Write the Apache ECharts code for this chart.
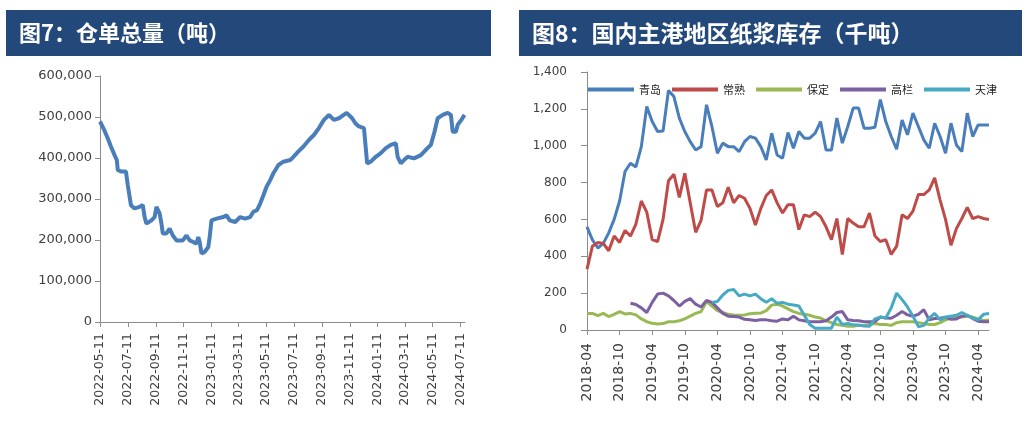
<!DOCTYPE html>
<html><head><meta charset="utf-8">
<script src="https://cdn.jsdelivr.net/npm/echarts@6/dist/echarts.min.js"></script>
<style>html,body{margin:0;padding:0;background:#fff}#c{width:1027px;height:425px}</style>
</head><body><div id="c"></div>
<script>
const leftTitle = '图7：仓单总量（吨）';
const rightTitle = '图8：国内主港地区纸浆库存（千吨）';

// Left chart: warehouse receipts (tonnes)
const whDates = ['2022-05-11','2022-05-20','2022-05-28','2022-06-04','2022-06-12','2022-06-17','2022-06-19','2022-06-26','2022-07-07','2022-07-11','2022-07-15','2022-07-18','2022-07-26','2022-08-06','2022-08-13','2022-08-17','2022-08-21','2022-09-01','2022-09-08','2022-09-12','2022-09-19','2022-09-23','2022-09-26','2022-10-04','2022-10-11','2022-10-18','2022-10-26','2022-11-09','2022-11-17','2022-11-24','2022-12-02','2022-12-09','2022-12-13','2022-12-16','2022-12-20','2022-12-27','2023-01-04','2023-01-07','2023-01-11','2023-01-22','2023-02-06','2023-02-13','2023-02-20','2023-03-04','2023-03-15','2023-03-26','2023-04-06','2023-04-13','2023-04-21','2023-04-28','2023-05-05','2023-05-12','2023-05-20','2023-05-27','2023-06-07','2023-06-18','2023-07-03','2023-07-10','2023-07-21','2023-08-01','2023-08-13','2023-08-24','2023-09-04','2023-09-15','2023-09-26','2023-10-07','2023-10-18','2023-11-04','2023-11-16','2023-11-23','2023-12-01','2023-12-12','2023-12-16','2023-12-19','2023-12-27','2024-01-07','2024-01-18','2024-01-29','2024-02-09','2024-02-20','2024-02-24','2024-03-02','2024-03-09','2024-03-17','2024-03-31','2024-04-15','2024-04-26','2024-05-07','2024-05-15','2024-05-22','2024-06-02','2024-06-13','2024-06-20','2024-06-24','2024-07-01','2024-07-05','2024-07-13','2024-07-20'];
const whValues = [489000,469000,448000,428000,407000,395000,371000,367000,367000,334000,330000,285000,277000,281000,285000,256000,240000,248000,256000,281000,265000,240000,216000,216000,228000,211000,199000,199000,211000,199000,195000,191000,207000,195000,167000,171000,183000,207000,248000,252000,256000,260000,248000,244000,256000,252000,256000,269000,273000,289000,309000,330000,346000,363000,383000,391000,395000,403000,416000,428000,444000,456000,473000,493000,505000,493000,497000,510000,497000,485000,477000,473000,469000,387000,391000,403000,412000,424000,432000,436000,403000,387000,395000,403000,399000,407000,420000,432000,464000,497000,505000,510000,505000,464000,464000,481000,493000,505000];
const whTicks = ['2022-05-11','2022-07-11','2022-09-11','2022-11-11','2023-01-11','2023-03-11','2023-05-11','2023-07-11','2023-09-11','2023-11-11','2024-01-11','2024-03-11','2024-05-11','2024-07-11'];
const whStart = '2022-05-11';
const whEnd = '2024-07-21';

// Right chart: pulp inventory at main ports (kt)
const months = ['2018-04','2018-05','2018-06','2018-07','2018-08','2018-09','2018-10','2018-11','2018-12','2019-01','2019-02','2019-03','2019-04','2019-05','2019-06','2019-07','2019-08','2019-09','2019-10','2019-11','2019-12','2020-01','2020-02','2020-03','2020-04','2020-05','2020-06','2020-07','2020-08','2020-09','2020-10','2020-11','2020-12','2021-01','2021-02','2021-03','2021-04','2021-05','2021-06','2021-07','2021-08','2021-09','2021-10','2021-11','2021-12','2022-01','2022-02','2022-03','2022-04','2022-05','2022-06','2022-07','2022-08','2022-09','2022-10','2022-11','2022-12','2023-01','2023-02','2023-03','2023-04','2023-05','2023-06','2023-07','2023-08','2023-09','2023-10','2023-11','2023-12','2024-01','2024-02','2024-03','2024-04','2024-05','2024-06'];
const portNames = ['青岛','常熟','保定','高栏','天津'];
const qingdao = [560,489,445,470,527,600,700,860,905,885,995,1213,1131,1077,1080,1300,1267,1150,1077,1022,977,995,1222,1104,959,1014,995,995,968,1022,1050,1041,995,923,1068,950,932,1072,986,1077,1041,1041,1068,1131,977,977,1150,1014,1104,1204,1204,1095,1095,1100,1250,1131,1050,981,1140,1059,1177,1104,1032,986,1122,1050,959,1122,1004,968,1177,1050,1113,1113,1113];
const changshu = [330,455,475,470,430,510,475,540,510,575,700,640,490,480,600,810,845,720,850,690,530,595,760,760,670,690,775,690,730,715,660,570,660,730,760,690,635,680,680,545,625,615,640,615,560,490,605,410,605,580,560,560,635,510,480,490,410,455,625,605,645,735,735,760,825,705,600,460,550,605,665,605,615,605,600];
const baoding = [90,90,78,90,73,85,100,87,90,82,60,45,36,33,35,45,45,50,60,75,90,100,155,130,105,95,85,82,80,82,88,91,92,105,135,140,130,115,100,90,85,80,70,65,50,40,30,25,20,20,25,25,30,35,30,30,25,40,45,45,45,40,35,30,30,40,55,65,70,70,75,70,60,50,55];
const gaolan = [null,null,null,null,null,null,null,null,145,138,120,95,150,195,200,185,160,130,155,170,140,125,160,150,120,90,75,73,70,58,55,52,55,55,50,48,60,55,75,55,50,45,45,45,50,70,95,100,55,52,50,45,45,45,70,65,64,80,100,82,75,85,110,55,62,64,70,58,60,75,80,62,48,45,45];
const tianjin = [null,null,null,null,null,null,null,null,null,null,null,null,null,null,null,null,null,null,null,null,null,null,null,150,155,190,215,220,185,195,185,195,170,150,170,145,150,140,136,130,80,30,10,10,10,10,70,30,36,28,27,22,20,60,70,65,120,200,165,125,75,18,25,65,90,55,70,75,80,95,80,65,55,85,90];
const portColors = ['#4A7EBB','#BE4B48','#98B954','#7D60A0','#46AAC5'];

const pd = s => +echarts.time.parse(s);
const fmtNum = v => String(v).replace(/\B(?=(\d{3})+(?!\d))/g, ',');
const axisGrey = '#8c8c8c';
const txt = '#404040';
const chart = echarts.init(document.getElementById('c'), null, {renderer: 'canvas'});
const portData = [qingdao, changshu, baoding, gaolan, tianjin];
const tickVals = whTicks.map(pd);

chart.setOption({
  animation: false,
  backgroundColor: '#fff',
  graphic: [
    {type: 'rect', shape: {x: 6, y: 10, width: 485, height: 46}, style: {fill: '#23497B'}},
    {type: 'text', x: 19, y: 33, style: {text: leftTitle, fill: '#fff', font: 'bold 22px "Noto Sans CJK SC"', textVerticalAlign: 'middle'}},
    {type: 'rect', shape: {x: 519, y: 10, width: 503, height: 46}, style: {fill: '#23497B'}},
    {type: 'text', x: 532, y: 33, style: {text: rightTitle, fill: '#fff', font: 'bold 23px "Noto Sans CJK SC"', textVerticalAlign: 'middle'}}
  ],
  legend: {
    left: 583, top: 79, itemWidth: 46, itemHeight: 4, itemGap: 11, icon: 'rect',
    textStyle: {fontSize: 11, color: '#222', fontFamily: '"Noto Sans CJK SC"'},
    data: portNames
  },
  grid: [
    {left: 100, right: 562, top: 76, bottom: 103, containLabel: false},
    {left: 587, right: 38, top: 72, bottom: 95, containLabel: false}
  ],
  xAxis: [
    {
      type: 'value', gridIndex: 0, min: pd(whStart), max: pd(whEnd), scale: true,
      axisLine: {lineStyle: {color: axisGrey, width: 1}},
      axisTick: {show: true, length: 5, lineStyle: {color: axisGrey}, customValues: tickVals},
      splitLine: {show: false},
      axisLabel: {rotate: 90, margin: 11, color: txt, fontSize: 12.5, fontFamily: '"DejaVu Sans"',
        customValues: tickVals,
        formatter: v => echarts.time.format(v, '{yyyy}-{MM}-{dd}', false)}
    },
    {
      type: 'category', gridIndex: 1, data: months, boundaryGap: false,
      axisLine: {lineStyle: {color: axisGrey, width: 1}},
      axisTick: {show: true, length: 5, interval: 5, lineStyle: {color: axisGrey}},
      axisLabel: {rotate: 90, margin: 13, interval: 5, color: txt, fontSize: 14, fontFamily: '"DejaVu Sans"'}
    }
  ],
  yAxis: [
    {
      type: 'value', gridIndex: 0, min: 0, max: 600000, interval: 100000,
      axisLine: {show: true, lineStyle: {color: axisGrey, width: 1}},
      axisTick: {show: true, length: 5, lineStyle: {color: axisGrey}},
      splitLine: {show: false},
      axisLabel: {margin: 8, color: txt, fontSize: 13, fontFamily: '"DejaVu Sans"', formatter: v => fmtNum(v)}
    },
    {
      type: 'value', gridIndex: 1, min: 0, max: 1400, interval: 200,
      axisLine: {show: true, lineStyle: {color: axisGrey, width: 1}},
      axisTick: {show: true, length: 6, lineStyle: {color: axisGrey}},
      splitLine: {show: false},
      axisLabel: {margin: 20, color: txt, fontSize: 12, fontFamily: '"DejaVu Sans"', formatter: v => fmtNum(v)}
    }
  ],
  series: [
    {
      name: '仓单总量', type: 'line', xAxisIndex: 0, yAxisIndex: 0, showSymbol: false,
      lineStyle: {color: '#4A7EBB', width: 4}, itemStyle: {color: '#4A7EBB'},
      data: whDates.map((d, i) => [pd(d), whValues[i]])
    }
  ].concat(portNames.map((n, k) => ({
    name: n, type: 'line', xAxisIndex: 1, yAxisIndex: 1, showSymbol: false,
    lineStyle: {color: portColors[k], width: 3}, itemStyle: {color: portColors[k]},
    data: portData[k]
  })))
});
</script></body></html>
